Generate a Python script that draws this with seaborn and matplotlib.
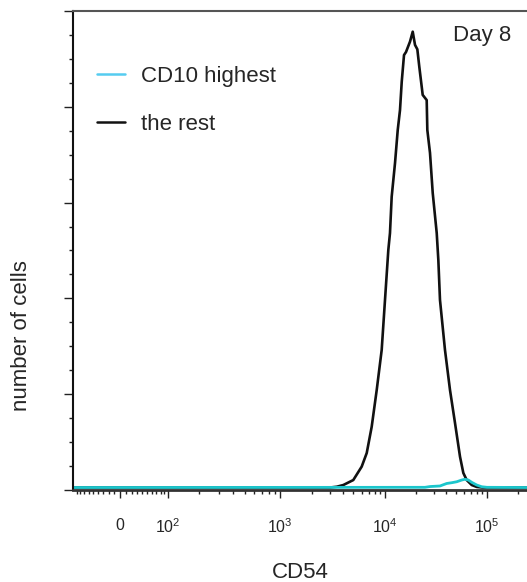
import numpy as np
import pandas as pd
import seaborn as sns
import matplotlib
matplotlib.use("Agg")
import matplotlib.pyplot as plt
from matplotlib.lines import Line2D
from matplotlib.ticker import MultipleLocator, NullFormatter

# CD54 intensity vs number of cells (Day 8)
rest_cd54 = [-120, 3000, 3470, 4010, 4990, 6000, 6700, 7470, 8340, 9300,
             10000, 10780, 11190, 11630, 12540, 13330, 14030, 14590, 15360, 16070,
             17580, 18700, 19690, 20750, 21690, 23420, 25630, 26000, 27620, 29370,
             32140, 33340, 34600, 38730, 43370, 48560, 54370, 58600, 63220, 70850,
             79330, 90000, 262144]
rest_cells = [1.3, 1.3, 1.7, 2.6, 5.2, 12.2, 19.3, 33.0, 52.2, 73.1,
              99.2, 125.3, 134.1, 153.1, 170.7, 187.9, 198.3, 213.1, 227.0, 228.6,
              234.0, 239.2, 232.3, 230.0, 220.9, 206.2, 203.5, 187.9, 175.9, 155.0,
              134.1, 120.0, 99.2, 73.1, 52.2, 35.0, 17.4, 8.9, 5.2, 2.6,
              1.6, 1.3, 1.3]

cd10_cd54 = [-120, 24650, 27620, 34600, 40270, 45080, 50470, 56490, 60810, 65610,
             70850, 79330, 88750, 100000, 262144]
cd10_cells = [1.3, 1.4, 1.8, 2.1, 3.4, 3.8, 4.3, 5.2, 5.6, 5.2,
              4.0, 2.6, 1.7, 1.4, 1.3]

series_names = ["the rest", "CD10 highest"]
major_ticks = [0, 1e2, 1e3, 1e4, 1e5]
major_labels = ["0", "$10^{2}$", "$10^{3}$", "$10^{4}$", "$10^{5}$"]

# biexponential display axis (asinh near zero, ~log above), stretched to the cytometer layout
biex_values = np.array([-1000, -100, 0, 1e2, 1e3, 1e4, 1e5, 1e6])
biex_display = np.array([-20, 73, 120, 168, 280, 385, 487, 589])
biex_width = 74.0
biex_t = np.arcsinh(biex_values / biex_width)


def biex_forward(x):
    return np.interp(np.arcsinh(np.asarray(x, dtype=float) / biex_width), biex_t, biex_display)


def biex_inverse(p):
    return biex_width * np.sinh(np.interp(np.asarray(p, dtype=float), biex_display, biex_t))


# Build dataframe
df = pd.concat([
    pd.DataFrame({"CD54": rest_cd54, "cells": rest_cells, "population": "the rest"}),
    pd.DataFrame({"CD54": cd10_cd54, "cells": cd10_cells, "population": "CD10 highest"}),
], ignore_index=True)

sns.set_style("ticks")
plt.rcParams["font.family"] = ["Liberation Sans", "DejaVu Sans"]
plt.rcParams["mathtext.default"] = "regular"

fig = plt.figure(figsize=(5.27, 5.82), dpi=100)
ax = fig.add_axes([73 / 527, 92 / 582, 454 / 527, 479 / 582])

sns.lineplot(data=df, x="CD54", y="cells", hue="population", hue_order=series_names,
             palette={"the rest": "#111111", "CD10 highest": "#1CC6CC"},
             estimator=None, sort=False, legend=False, linewidth=1.9, ax=ax)
ax.lines[0].set_linewidth(1.9)
ax.lines[1].set_linewidth(2.0)

ax.set_xscale("function", functions=(biex_forward, biex_inverse))
ax.set_xlim(biex_inverse(73), biex_inverse(527))
ax.set_ylim(0, 250)

# ticks
minor_ticks = [s * k for k in range(10, 100, 10) for s in (-1, 1)]
minor_ticks += [m * 10 ** e for e in (2, 3, 4) for m in range(2, 10)] + [2e5]
ax.set_xticks(major_ticks, major_labels)
ax.set_xticks(minor_ticks, minor=True)
ax.xaxis.set_minor_formatter(NullFormatter())
ax.yaxis.set_major_locator(MultipleLocator(50))
ax.yaxis.set_minor_locator(MultipleLocator(12.5))

ax.tick_params(axis="x", which="major", length=6, width=1, pad=14, labelsize=11.5, color="#222222")
ax.tick_params(axis="x", which="minor", length=3, width=1, color="#222222")
ax.tick_params(axis="y", which="major", length=6.5, width=1, labelleft=False, color="#222222")
ax.tick_params(axis="y", which="minor", length=3, width=1, color="#222222")

ax.spines["right"].set_visible(False)
ax.spines["top"].set_color("#555555")
ax.spines["top"].set_linewidth(1.5)
ax.spines["left"].set_color("#111111")
ax.spines["left"].set_linewidth(1.5)
ax.spines["bottom"].set_color("#333333")
ax.spines["bottom"].set_linewidth(2)

ax.set_xlabel("CD54", fontsize=16)
ax.xaxis.set_label_coords(0.5, -0.150)
ax.set_ylabel("number of cells", fontsize=16)
ax.yaxis.set_label_coords(-0.09, 0.3215)

ax.text(0.901, 0.948, "Day 8", transform=ax.transAxes, ha="center", va="center", fontsize=16)

handles = [Line2D([], [], color="#55CCF0", linewidth=1.8),
           Line2D([], [], color="#111111", linewidth=1.8)]
ax.legend(handles, ["CD10 highest", "the rest"], loc="upper left",
          bbox_to_anchor=(0.053, 0.885), frameon=False, fontsize=16,
          borderpad=0, borderaxespad=0, handlelength=1.26, handletextpad=0.72,
          labelspacing=1.2)

fig.savefig("out.png", dpi=100)
